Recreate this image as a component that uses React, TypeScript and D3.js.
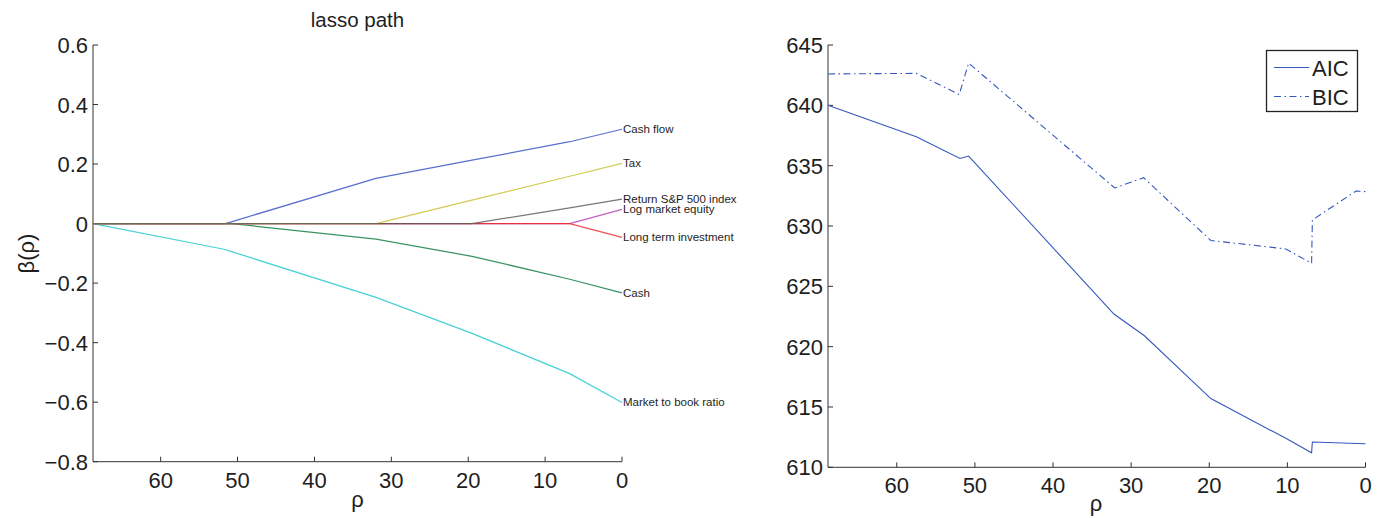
import React from "react";
import * as d3 from "d3";

// ---------- Data ----------
const rhoPath = [68.8, 51.6, 50.8, 32, 19.5, 6.8, 0];
const seriesNames = [
  "Cash flow",
  "Cash",
  "Market to book ratio",
  "Log market equity",
  "Long term investment",
  "Tax",
  "Return S&P 500 index",
];
const seriesColors = ["#3350c0", "#0c7a3c", "#1ec8cc", "#b43cb4", "#f02828", "#c8c030", "#5a5a5a"];
const cashFlow = [0, 0, 0.006, 0.152, 0.213, 0.275, 0.317];
const cash = [0, 0, 0, -0.052, -0.11, -0.187, -0.233];
const marketToBook = [0, -0.087, -0.094, -0.248, -0.369, -0.504, -0.601];
const logMarketEquity = [0, 0, 0, 0, 0, 0, 0.048];
const longTermInvestment = [0, 0, 0, 0, 0, 0, -0.046];
const tax = [0, 0, 0, 0, 0.079, 0.159, 0.202];
const returnSP = [0, 0, 0, 0, 0, 0.053, 0.082];
const pathValues = [cashFlow, cash, marketToBook, logMarketEquity, longTermInvestment, tax, returnSP];

const betaTicks = [0.6, 0.4, 0.2, 0, -0.2, -0.4, -0.6, -0.8];
const rhoTicks = [60, 50, 40, 30, 20, 10, 0];

const aicRho = [68.8, 57.5, 51.9, 50.8, 32.2, 28.3, 19.8, 10.2, 6.9, 6.8, 0];
const aic = [640.0, 637.4, 635.6, 635.8, 622.7, 620.9, 615.7, 612.4, 611.2, 612.1, 611.95];
const bicRho = [68.8, 57.5, 52.0, 50.8, 32.1, 28.4, 19.8, 10.2, 6.9, 6.8, 1.2, 0];
const bic = [642.6, 642.65, 640.9, 643.5, 633.15, 634.0, 628.8, 628.1, 626.9, 630.5, 632.9, 632.85];
const icTicks = [645, 640, 635, 630, 625, 620, 615, 610];
const legendNames = ["AIC", "BIC"];

const FONT = "'Liberation Sans', Arial, Helvetica, sans-serif";
const TXT = "#1e1e1e";
const AX = "#333";
const fmtBeta = (v: number) => (v === 0 ? "0" : (v < 0 ? "\u2212" : "") + Math.abs(v).toFixed(1));

export default function App() {
  const xL = d3.scaleLinear().domain([68.8, 0]).range([93, 622]);
  const yL = d3.scaleLinear().domain([-0.8, 0.6]).range([461.7, 45]);
  const xR = d3.scaleLinear().domain([68.8, 0]).range([828, 1365.5]);
  const yR = d3.scaleLinear().domain([610, 645]).range([467.3, 45]);

  const lineL = d3
    .line<number>()
    .x((_, i) => xL(rhoPath[i]))
    .y((d) => yL(d));
  const lineAIC = d3
    .line<number>()
    .x((_, i) => xR(aicRho[i]))
    .y((d) => yR(d));
  const lineBIC = d3
    .line<number>()
    .x((_, i) => xR(bicRho[i]))
    .y((d) => yR(d));

  const lastIdx = rhoPath.length - 1;
  const blue = "#3558bc";
  const dash = "7,3.5,1.5,3.5";

  return (
    <svg
      width={1381}
      height={518}
      style={{ position: "absolute", left: 0, top: 0, background: "#fff" }}
      fontFamily={FONT}
    >
      {/* ---------- LEFT PANEL ---------- */}
      <text x={357.5} y={27} fontSize={20.5} textAnchor="middle" fill={TXT}>
        lasso path
      </text>
      <line x1={xL.range()[0]} x2={xL.range()[0]} y1={yL(0.6)} y2={yL(-0.8)} stroke={AX} strokeWidth={1} />
      <line x1={xL.range()[0]} x2={xL.range()[1]} y1={yL(-0.8)} y2={yL(-0.8)} stroke={AX} strokeWidth={1} />
      {betaTicks.map((t) => (
        <g key={"by" + t}>
          <line x1={xL.range()[0]} x2={xL.range()[0] + 5} y1={yL(t)} y2={yL(t)} stroke={AX} />
          <text x={xL.range()[0] - 5} y={yL(t) + 8} fontSize={22} textAnchor="end" fill={TXT}>
            {fmtBeta(t)}
          </text>
        </g>
      ))}
      {rhoTicks.map((t) => (
        <g key={"bx" + t}>
          <line x1={xL(t)} x2={xL(t)} y1={yL(-0.8)} y2={yL(-0.8) - 5} stroke={AX} />
          <text x={xL(t)} y={487.5} fontSize={22} textAnchor="middle" fill={TXT}>
            {t}
          </text>
        </g>
      ))}
      <text x={357.5} y={507} fontSize={22} textAnchor="middle" fill={TXT}>
        ρ
      </text>
      <text transform={`translate(34,253.5) rotate(-90)`} fontSize={22} textAnchor="middle" fill={TXT}>
        β(ρ)
      </text>
      {pathValues.map((vals, k) => (
        <path
          key={"p" + k}
          d={lineL(vals) || ""}
          fill="none"
          stroke={seriesColors[k]}
          strokeOpacity={0.82}
          strokeWidth={1.25}
        />
      ))}
      {pathValues.map((vals, k) => (
        <text key={"lab" + k} x={xL(0) + 1} y={yL(vals[lastIdx]) + 4} fontSize={11.5} fill={TXT}>
          {seriesNames[k]}
        </text>
      ))}

      {/* ---------- RIGHT PANEL ---------- */}
      <line x1={xR.range()[0]} x2={xR.range()[0]} y1={yR(645)} y2={yR(610)} stroke={AX} />
      <line x1={xR.range()[0]} x2={xR.range()[1]} y1={yR(610)} y2={yR(610)} stroke={AX} />
      {icTicks.map((t) => (
        <g key={"iy" + t}>
          <line x1={xR.range()[0]} x2={xR.range()[0] + 5} y1={yR(t)} y2={yR(t)} stroke={AX} />
          <text x={xR.range()[0] - 5} y={yR(t) + 8} fontSize={22} textAnchor="end" fill={TXT}>
            {t}
          </text>
        </g>
      ))}
      {rhoTicks.map((t) => (
        <g key={"ix" + t}>
          <line x1={xR(t)} x2={xR(t)} y1={yR(610)} y2={yR(610) - 5} stroke={AX} />
          <text x={xR(t)} y={492.5} fontSize={22} textAnchor="middle" fill={TXT}>
            {t}
          </text>
        </g>
      ))}
      <text x={1096} y={511} fontSize={22} textAnchor="middle" fill={TXT}>
        ρ
      </text>
      <path d={lineAIC(aic) || ""} fill="none" stroke={blue} strokeWidth={1.1} />
      <path d={lineBIC(bic) || ""} fill="none" stroke={blue} strokeWidth={1.1} strokeDasharray={dash} />
      <rect x={1266.5} y={50.5} width={91} height={61} fill="#fff" stroke="#222" strokeWidth={1.3} />
      {legendNames.map((n, i) => (
        <g key={"lg" + n}>
          <line
            x1={1274}
            x2={1309}
            y1={67.5 + i * 29}
            y2={67.5 + i * 29}
            stroke={blue}
            strokeWidth={1.1}
            strokeDasharray={i === 1 ? dash : undefined}
          />
          <text x={1312} y={76 + i * 29} fontSize={22} fill={TXT}>
            {n}
          </text>
        </g>
      ))}
    </svg>
  );
}
